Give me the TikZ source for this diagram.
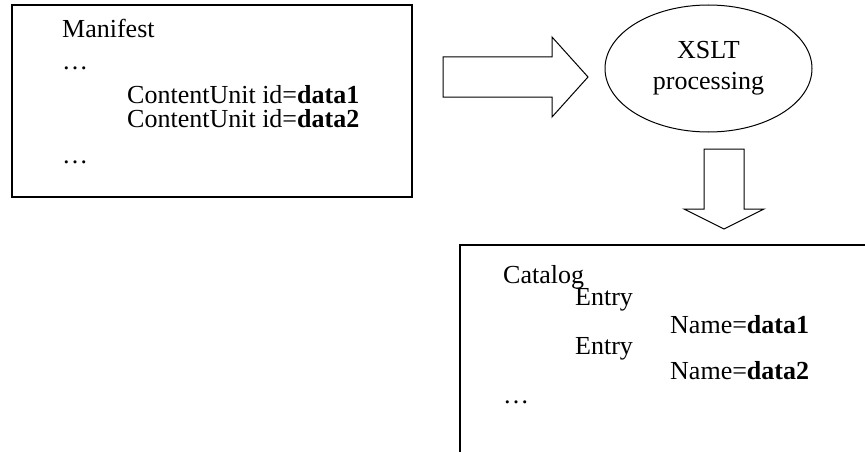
\documentclass[tikz,border=0pt]{standalone}
\usepackage{fontspec}
\setmainfont{Liberation Serif}
\usetikzlibrary{shapes.geometric}

\begin{document}
\begin{tikzpicture}[x=1pt,y=-1pt,
    txt/.style={anchor=base west,inner sep=0pt,font=\fontsize{26}{31}\selectfont},
    box/.style={draw,line width=1.6pt,inner sep=0pt},
    blockarrow/.style={draw,line width=1pt,line join=miter}]
    \clip (0,0) rectangle (865,452);

    \node (manifest) at (212,101) [box,minimum width=400pt,minimum height=192pt] {};
    \node (m1) at (62,38) [txt] {Manifest};
    \node (m2) at (62,70) [txt] {…};
    \node (m3) at (127,103) [txt] {ContentUnit id=\textbf{data1}};
    \node (m4) at (127,127) [txt] {ContentUnit id=\textbf{data2}};
    \node (m5) at (62,163) [txt] {…};

    \node (xslt) at (708.5,68.5) [ellipse,draw,line width=1pt,inner sep=0pt,
        minimum width=207pt,minimum height=127pt,align=center,
        font=\fontsize{26}{31}\selectfont] {XSLT\\processing};

    \node (catalog) at (680,362.5) [box,minimum width=440pt,minimum height=235pt] {};
    \node (c1) at (503,283) [txt] {Catalog};
    \node (c2) at (575,305) [txt] {Entry};
    \node (c3) at (670,333) [txt] {Name=\textbf{data1}};
    \node (c4) at (575,354) [txt] {Entry};
    \node (c5) at (670,379) [txt] {Name=\textbf{data2}};
    \node (c6) at (503,403) [txt] {…};

    \draw[blockarrow] (443,57) -- (552,57) -- (552,37) -- (588,77) -- (552,117) -- (552,97) -- (443,97) -- cycle;
    \draw[blockarrow] (704,149) -- (744,149) -- (744,209) -- (764,209) -- (724,229) -- (684,209) -- (704,209) -- cycle;
\end{tikzpicture}
\end{document}
